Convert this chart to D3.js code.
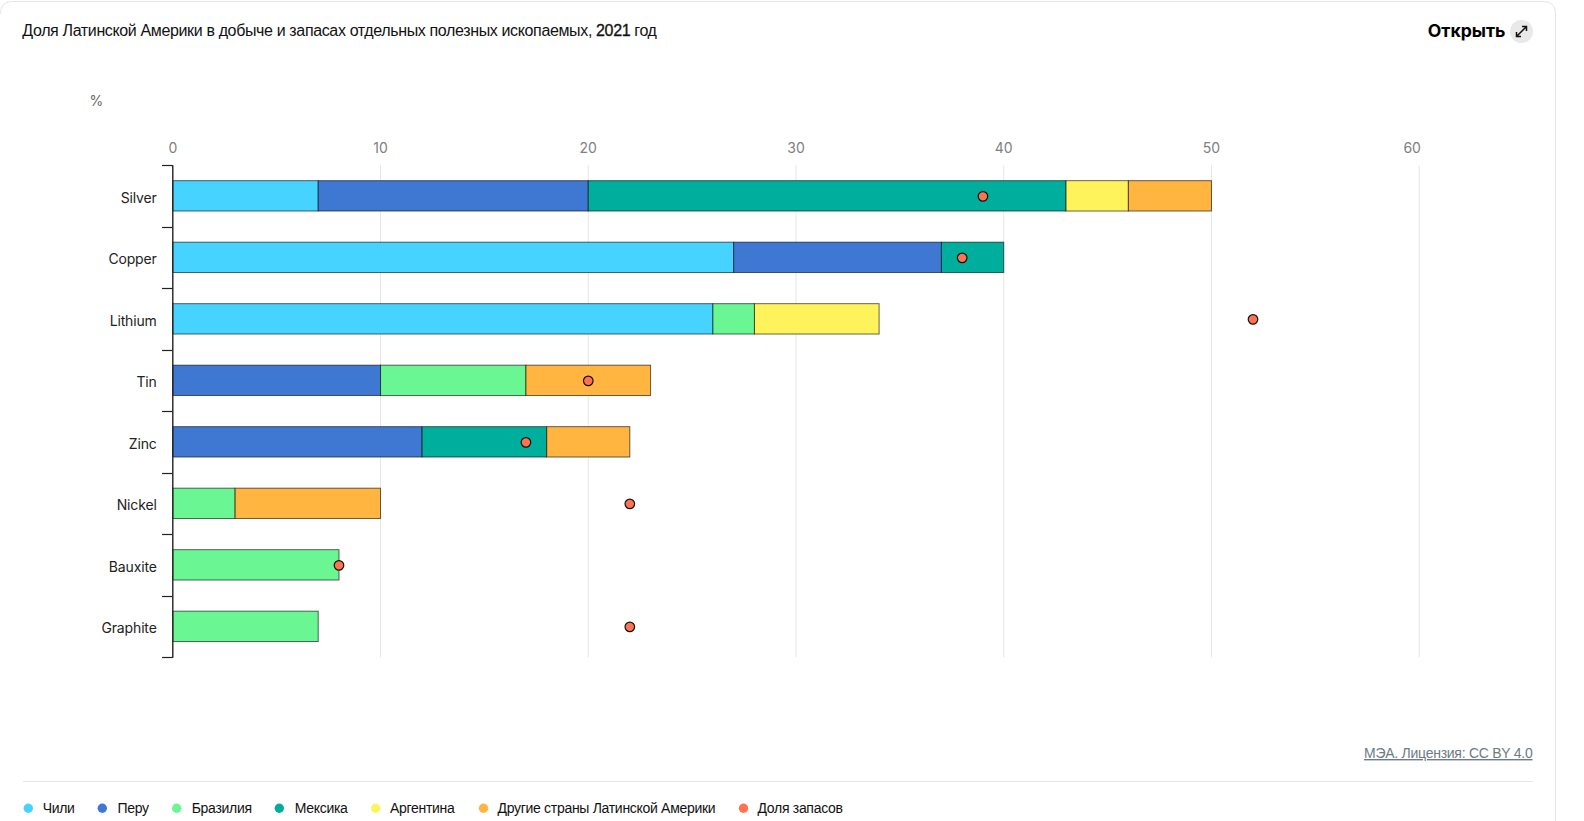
<!DOCTYPE html>
<html><head><meta charset="utf-8">
<script src="https://cdn.jsdelivr.net/npm/d3@7/dist/d3.min.js"></script>
<style>
html,body{margin:0;padding:0;background:#fff;overflow:hidden}
svg{display:block}
text{font-family:"Liberation Sans",Arial,sans-serif}
</style></head><body>
<svg id="c" width="1584" height="821"></svg>
<script>
const titleMain = "Доля Латинской Америки в добыче и запасах отдельных полезных ископаемых, ";
const titleYear = "2021";
const titleEnd = " год";
const minerals = ["Silver","Copper","Lithium","Tin","Zinc","Nickel","Bauxite","Graphite"];
const seriesNames = ["Чили","Перу","Бразилия","Мексика","Аргентина","Другие страны Латинской Америки"];
const seriesColors = ["#47d3ff","#3e78d3","#69f693","#00ae9d","#fff35c","#ffb53f"];
const chile     = [7,27,26,0,0,0,0,0];
const peru      = [13,10,0,10,12,0,0,0];
const brazil    = [0,0,2,7,0,3,8,7];
const mexico    = [23,3,0,0,6,0,0,0];
const argentina = [3,0,6,0,0,0,0,0];
const other     = [4,0,0,6,4,7,0,0];
const reserves  = [39,38,52,20,17,22,8,22];
const reserveName = "Доля запасов";
const reserveColor = "#ff7350";
const xTicks = [0,10,20,30,40,50,60];

const svg = d3.select("#c");
const rows = minerals.map((m,i)=>({m,v:[chile[i],peru[i],brazil[i],mexico[i],argentina[i],other[i]]}));
const top0 = 165.3, bot0 = 657.3;
const x = d3.scaleLinear().domain([0,60]).range([172.8,1419.2]);
const y = d3.scaleBand().domain(minerals).range([top0,bot0]).paddingInner(0.5).paddingOuter(0.25);
const band = d3.scaleBand().domain(minerals).range([top0,bot0]);

// card
svg.append("path").attr("d","M0.5,14 Q0.5,1.5 12,1.5 L1543,1.5 Q1555.5,1.5 1555.5,14 L1555.5,821")
  .attr("fill","none").attr("stroke","#e6e6e6");

const tt = svg.append("text").attr("x",22.3).attr("y",36).attr("font-size",16).attr("letter-spacing",-0.36).attr("fill","#111");
tt.append("tspan").text(titleMain);
tt.append("tspan").attr("stroke","#111").attr("stroke-width",0.3).text(titleYear);
tt.append("tspan").text(titleEnd);

// open button
svg.append("text").attr("x",1505.5).attr("y",37).attr("text-anchor","end").attr("font-size",17.6).attr("font-weight",700)
  .style("font-family","Inter").attr("fill","#000").text("Открыть");
svg.append("circle").attr("cx",1521.5).attr("cy",31.5).attr("r",11.5).attr("fill","#e9e9e9");
svg.append("path").attr("d","M1516.5,36.5L1526.5,26.5M1522,26.5H1526.5V31M1516.5,32V36.5H1521")
  .attr("fill","none").attr("stroke","#111").attr("stroke-width",1.5);

svg.append("text").attr("x",89.5).attr("y",105.5).attr("font-size",14).style("font-family","Inter").attr("fill","#666").text("%");

// grid
svg.append("g").selectAll("line").data(xTicks.slice(1)).join("line")
  .attr("x1",d=>x(d)).attr("x2",d=>x(d)).attr("y1",top0).attr("y2",bot0)
  .attr("stroke","#e6e6e6");

// top axis labels
svg.append("g").selectAll("text").data(xTicks).join("text")
  .attr("x",d=>d===60?x(d)-7:x(d)).attr("y",153).attr("text-anchor","middle")
  .attr("font-size",14).style("font-family","Inter").attr("fill","#808080").text(d=>d);

// bars
const g = svg.append("g");
rows.forEach(r=>{
  let acc=0;
  r.v.forEach((v,k)=>{
    if(v>0){
      g.append("rect").attr("x",x(acc)).attr("y",y(r.m)).attr("width",x(acc+v)-x(acc)).attr("height",y.bandwidth()-0.4)
        .attr("fill",seriesColors[k]).attr("stroke","#000").attr("stroke-opacity",0.6).attr("stroke-width",1);
    }
    acc+=v;
  });
});

// category axis
const ax = svg.append("g");
const edges = minerals.map(m=>band(m)).concat([bot0]);
ax.selectAll("line.t").data(edges).join("line").attr("class","t")
  .attr("x1",162).attr("x2",172.8).attr("y1",d=>Math.round(d)+0.5).attr("y2",d=>Math.round(d)+0.5)
  .attr("stroke","#222").attr("stroke-width",1.2);
ax.append("line").attr("x1",172.8).attr("x2",172.8).attr("y1",top0).attr("y2",bot0+0.5).attr("stroke","#222").attr("stroke-width",1.4);
ax.selectAll("text").data(minerals).join("text")
  .attr("x",156.7).attr("y",d=>y(d)+y.bandwidth()/2+6.6).attr("text-anchor","end")
  .attr("font-size",14).attr("letter-spacing",-0.15).style("font-family","Inter").attr("fill","#222").text(d=>d);

// reserves
svg.append("g").selectAll("circle").data(minerals).join("circle")
  .attr("cx",(d,i)=>x(reserves[i])).attr("cy",d=>y(d)+y.bandwidth()/2+0.3)
  .attr("r",4.8).attr("fill",reserveColor).attr("stroke","#111").attr("stroke-width",1.2);

// source
svg.append("text").attr("x",1532.5).attr("y",758).attr("text-anchor","end").attr("font-size",14).attr("letter-spacing",-0.26)
  .attr("fill","#6e7a85").attr("text-decoration","underline").text("МЭА. Лицензия: CC BY 4.0");
svg.append("line").attr("x1",23).attr("x2",1533).attr("y1",781.5).attr("y2",781.5).attr("stroke","#e6e6e6");

// legend
const legendNames = seriesNames.concat([reserveName]);
const legendColors = seriesColors.concat([reserveColor]);
const legendX = [28.3,102.3,176.7,279.3,375.7,483.5,743.5];
const legendTextX = [42.7,117.5,191.7,294.7,390,497.5,757.5];
const lg = svg.append("g").selectAll("g").data(legendNames).join("g");
lg.append("circle").attr("cx",(d,i)=>legendX[i]).attr("cy",808.3).attr("r",4.7).attr("fill",(d,i)=>legendColors[i]);
lg.append("text").attr("x",(d,i)=>legendTextX[i]).attr("y",813).attr("font-size",14).attr("letter-spacing",-0.3).attr("fill","#111").text(d=>d);
</script>
</body></html>
